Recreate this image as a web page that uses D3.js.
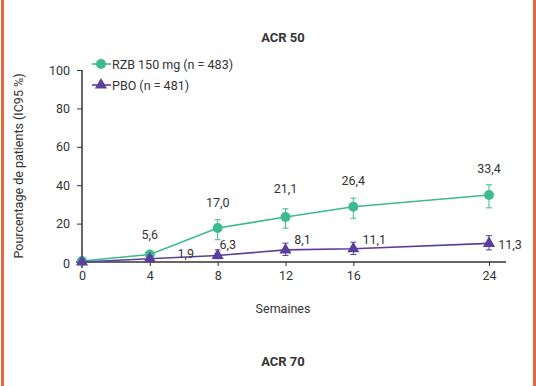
<!DOCTYPE html>
<html><head><meta charset="utf-8">
<script src="https://cdn.jsdelivr.net/npm/d3@7"></script>
<style>body{margin:0;background:#fff}svg{display:block}text{font-family:Roboto,"Noto Sans",sans-serif;fill:#333}</style>
</head><body><svg id="c" width="536" height="386"></svg>
<script>
const weeks = [0, 4, 8, 12, 16, 24];
const rzbValues = [0.5, 3.9, 17.7, 23.4, 28.8, 34.9];
const rzbLow = [null, 2.5, 11.6, 17.6, 22.8, 28.2];
const rzbHigh = [null, 5.3, 22.0, 27.7, 33.3, 40.2];
const rzbLabels = ["", "5,6", "17,0", "21,1", "26,4", "33,4"];
const pboValues = [0, 1.7, 3.4, 6.3, 6.9, 9.7];
const pboLow = [null, 0.6, 1.7, 3.4, 3.9, 6.3];
const pboHigh = [null, 3.0, 6.3, 9.8, 10.3, 13.7];
const pboLabels = ["", "1,9", "6,3", "8,1", "11,1", "11,3"];
const yTicks = [0, 20, 40, 60, 80, 100];
const seriesNames = ["RZB 150 mg (n = 483)", "PBO (n = 481)"];
const green = "#3dba8f", purple = "#5a3f9c";

const svg = d3.select("#c");
svg.append("rect").attr("x",1).attr("y",0).attr("width",3).attr("height",386).attr("fill","#e2683f");
svg.append("rect").attr("x",533).attr("y",0).attr("width",3).attr("height",386).attr("fill","#e2683f");

const x = d3.scaleLinear().domain([0,24]).range([82,489]);
const y = d3.scaleLinear().domain([0,100]).range([262,70]);

// axes
const ya = svg.append("g").attr("transform","translate(82,0)")
  .call(d3.axisLeft(y).tickValues(yTicks).tickSize(5).tickPadding(7));
ya.select(".domain").attr("d","M0,70V268").attr("stroke","#333").attr("stroke-width",1.5);
ya.selectAll(".tick line").attr("stroke","#333");
ya.selectAll(".tick text").style("font-size","12.5px").attr("fill","#333");
ya.selectAll(".tick").filter(d=>d===0).select("text").attr("dy","0.45em");

const xa = svg.append("g").attr("transform","translate(0,262)")
  .call(d3.axisBottom(x).tickValues(weeks).tickSize(4).tickPadding(5));
xa.select(".domain").attr("d","M76,0H506").attr("stroke","#333").attr("stroke-width",1.5);
xa.selectAll(".tick line").attr("stroke","#333");
xa.selectAll(".tick text").style("font-size","12.5px").attr("fill","#333");

svg.append("text").attr("x",283).attr("y",42).attr("text-anchor","middle").style("font-size","13px").style("font-weight","bold").attr("fill","#111").text("ACR 50");
svg.append("text").attr("x",283).attr("y",366).attr("text-anchor","middle").style("font-size","13px").style("font-weight","bold").attr("fill","#111").text("ACR 70");
svg.append("text").attr("x",283).attr("y",313).attr("text-anchor","middle").style("font-size","12.5px").text("Semaines");
svg.append("text").attr("transform","translate(23,166) rotate(-90)").attr("text-anchor","middle").style("font-size","12.5px").text("Pourcentage de patients (IC95 %)");

const line = d3.line().x((d,i)=>x(weeks[i])).y(d=>y(d));
function drawSeries(vals, lo, hi, color, shape){
  const g = svg.append("g");
  g.append("path").attr("d", line(vals)).attr("fill","none").attr("stroke",color).attr("stroke-width",1.6);
  weeks.forEach((w,i)=>{
    if(lo[i]==null) return;
    const cx = x(w);
    g.append("path").attr("d",`M${cx},${y(lo[i])}V${y(hi[i])}M${cx-3},${y(lo[i])}H${cx+3}M${cx-3},${y(hi[i])}H${cx+3}`)
      .attr("stroke",color).attr("stroke-width",1).attr("fill","none");
  });
  g.selectAll(".m").data(vals).join("path")
    .attr("transform",(d,i)=>`translate(${x(weeks[i])},${y(d)})`)
    .attr("d", d3.symbol().type(shape).size(shape===d3.symbolCircle?78:64)())
    .attr("fill",color);
}
drawSeries(rzbValues, rzbLow, rzbHigh, green, d3.symbolCircle);
drawSeries(pboValues, pboLow, pboHigh, purple, d3.symbolTriangle);

// labels
const rzbOff = [null,[0,-16],[0,-21],[0,-24],[0,-22],[0,-22]];
rzbLabels.forEach((t,i)=>{ if(!t) return;
  svg.append("text").attr("x",x(weeks[i])+rzbOff[i][0]).attr("y",y(rzbValues[i])+rzbOff[i][1]).attr("text-anchor","middle").style("font-size","12.5px").text(t);});
const pboOff = [null,[36,-1],[10,-6],[17,-6],[21,-5],[21,6]];
pboLabels.forEach((t,i)=>{ if(!t) return;
  svg.append("text").attr("x",x(weeks[i])+pboOff[i][0]).attr("y",y(pboValues[i])+pboOff[i][1]).attr("text-anchor","middle").style("font-size","12.5px").text(t);});

// legend
const leg = [[seriesNames[0],green,d3.symbolCircle,64],[seriesNames[1],purple,d3.symbolTriangle,85]];
leg.forEach(([name,color,shape,ly])=>{
  svg.append("line").attr("x1",92).attr("x2",111).attr("y1",ly).attr("y2",ly).attr("stroke",color).attr("stroke-width",1.6);
  svg.append("path").attr("transform",`translate(101,${ly})`).attr("d",d3.symbol().type(shape).size(shape===d3.symbolCircle?78:64)()).attr("fill",color);
  svg.append("text").attr("x",112).attr("y",ly+4.5).style("font-size","12.5px").text(name);
});
</script></body></html>
